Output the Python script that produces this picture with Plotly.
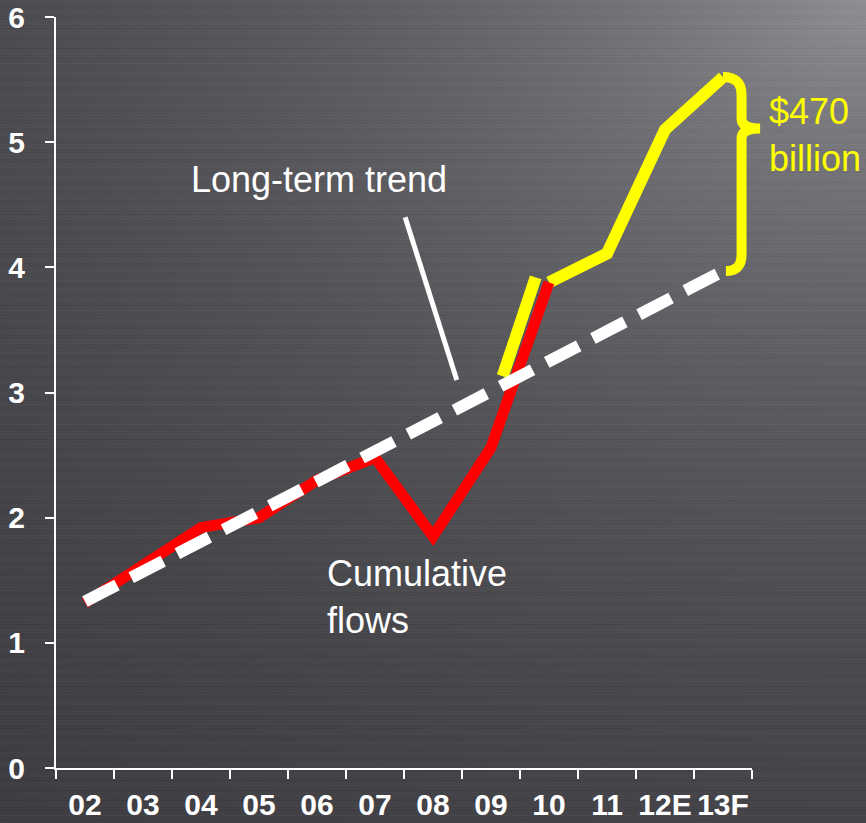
import base64
import struct
import zlib

import numpy as np
import plotly.graph_objects as go

# ---------------- data ----------------
categories = ["02", "03", "04", "05", "06", "07", "08", "09", "10", "11", "12E", "13F"]
cat_pos = list(range(len(categories)))

# cumulative flows (red), years 02..10
red_x = cat_pos[0:9]
red_values = [1.32, 1.61, 1.92, 2.00, 2.30, 2.48, 1.85, 2.56, 3.88]

# continuation (yellow), years 10..13F
yellow_x = cat_pos[8:12]
yellow_values = [3.88, 4.11, 5.10, 5.52]

# yellow jump segment near 09-10
jump_x = [7.20, 7.77]
jump_y = [3.13, 3.92]

# long-term trend (white dashed)
trend_x = [0, 11]
trend_y = [1.33, 3.97]

gap_top = yellow_values[-1]
gap_bottom = trend_y[-1]

# ---------------- background texture (style only) ----------------
W, H = 216, 823
xs = np.linspace(0, 866, W)
ys = np.arange(H, dtype=float)
X, Y = np.meshgrid(xs, ys)
d = np.sqrt(((866 - X) / 680.0) ** 2 + (Y / 500.0) ** 2)
v = 50 + 92 * np.exp(-d)
streak = 2.0 * np.sin(ys * 1.93) + 1.5 * np.sin(ys * 0.61 + 0.7) + 1.0 * np.sin(ys * 3.7 + 2.1)
v = v + streak[:, None]
img = np.clip(np.stack([v, v, v + 5], -1), 0, 255).astype(np.uint8)
raw = b"".join(b"\x00" + img[i].tobytes() for i in range(H))


def _chunk(t, data):
    return struct.pack(">I", len(data)) + t + data + struct.pack(">I", zlib.crc32(t + data) & 0xFFFFFFFF)


png = (b"\x89PNG\r\n\x1a\n"
       + _chunk(b"IHDR", struct.pack(">IIBBBBB", W, H, 8, 2, 0, 0, 0))
       + _chunk(b"IDAT", zlib.compress(raw, 9))
       + _chunk(b"IEND", b""))
bg_uri = "data:image/png;base64," + base64.b64encode(png).decode()

# ---------------- figure ----------------
FONT = "Liberation Sans, Arial, sans-serif"
fig = go.Figure()

fig.add_trace(go.Scatter(x=jump_x, y=jump_y, mode="lines",
                         line=dict(color="#ffff00", width=12), hoverinfo="skip", showlegend=False))
fig.add_trace(go.Scatter(x=yellow_x, y=yellow_values, mode="lines",
                         line=dict(color="#ffff00", width=12), hoverinfo="skip", showlegend=False))
fig.add_trace(go.Scatter(x=red_x, y=red_values, mode="lines",
                         line=dict(color="#ff0000", width=11), hoverinfo="skip", showlegend=False))
fig.add_trace(go.Scatter(x=trend_x, y=trend_y, mode="lines",
                         line=dict(color="#ffffff", width=12, dash="36px,16px"),
                         hoverinfo="skip", showlegend=False))

# plot-area geometry helpers
L, R, T, B = 56, 114, 17, 55
FW, FH = 866, 823
PW, PH = FW - L - R, FH - T - B
x_lo, x_hi = -0.5, len(categories) - 0.5


def paper_x(xd):
    return (xd - x_lo) / (x_hi - x_lo)


# brace between yellow peak and trend end
xv = len(categories) - 1 + 0.32
xt = len(categories) - 1 + 0.64
xs0 = len(categories) - 1
ym = 5.11
brace = (f"M {paper_x(xs0)},{gap_top} "
         f"Q {paper_x(xv)},{gap_top} {paper_x(xv)},{gap_top - 0.14} "
         f"L {paper_x(xv)},{ym + 0.08} "
         f"Q {paper_x(xv)},{ym} {paper_x(xt)},{ym} "
         f"Q {paper_x(xv)},{ym} {paper_x(xv)},{ym - 0.08} "
         f"L {paper_x(xv)},{gap_bottom + 0.13} "
         f"Q {paper_x(xv)},{gap_bottom} {paper_x(xs0 + 0.05)},{gap_bottom}")
fig.add_shape(type="path", path=brace, xref="paper", yref="y",
              line=dict(color="#ffff00", width=10))

# pointer for the trend label
fig.add_shape(type="line", xref="x", yref="y", x0=5.52, y0=4.40, x1=6.41, y1=3.10,
              line=dict(color="#ffffff", width=5))

fig.add_annotation(text="Long-term trend", x=4.03, y=4.70, xref="x", yref="y",
                   xanchor="center", yanchor="middle", showarrow=False,
                   font=dict(family=FONT, size=36, color="#ffffff"))
fig.add_annotation(text="Cumulative<br>flows", x=4.14, y=1.37, xref="x", yref="y",
                   xanchor="left", yanchor="middle", align="left", showarrow=False,
                   font=dict(family=FONT, size=36, color="#ffffff"))
fig.add_annotation(text="$470<br>billion", x=(767 - L) / PW, y=5.06, xref="paper", yref="y",
                   xanchor="left", yanchor="middle", align="left", showarrow=False,
                   font=dict(family=FONT, size=36, color="#ffff00"))

fig.update_layout(
    template="none",
    width=FW, height=FH, autosize=False,
    margin=dict(l=L, r=R, t=T, b=B, pad=0, autoexpand=False),
    paper_bgcolor="#45454b", plot_bgcolor="rgba(0,0,0,0)",
    showlegend=False,
    images=[dict(source=bg_uri, xref="paper", yref="paper",
                 x=-L / PW, y=1 + T / PH, sizex=FW / PW, sizey=FH / PH,
                 sizing="stretch", xanchor="left", yanchor="top", layer="below")],
)
fig.update_xaxes(
    automargin=False,
    range=[x_lo, x_hi], tickmode="array", tickvals=cat_pos, ticktext=categories,
    ticks="", showgrid=False, zeroline=False,
    showline=True, linecolor="#ffffff", linewidth=2,
    tickfont=dict(family=FONT, size=30, color="#ffffff", weight="bold"),
    ticklabelstandoff=9,
    minor=dict(tickmode="array", tickvals=[p - 0.5 for p in cat_pos] + [x_hi],
               ticks="outside", ticklen=9, tickwidth=2, tickcolor="#ffffff", showgrid=False),
    fixedrange=True,
)
fig.update_yaxes(
    automargin=False,
    range=[0, 6], tickmode="array", tickvals=[0, 1, 2, 3, 4, 5, 6],
    ticks="outside", ticklen=9, tickwidth=2, tickcolor="#ffffff",
    showgrid=False, zeroline=False,
    showline=True, linecolor="#ffffff", linewidth=2,
    tickfont=dict(family=FONT, size=30, color="#ffffff", weight="bold"),
    ticklabelstandoff=14,
    fixedrange=True,
)

fig.write_html("out.html")
